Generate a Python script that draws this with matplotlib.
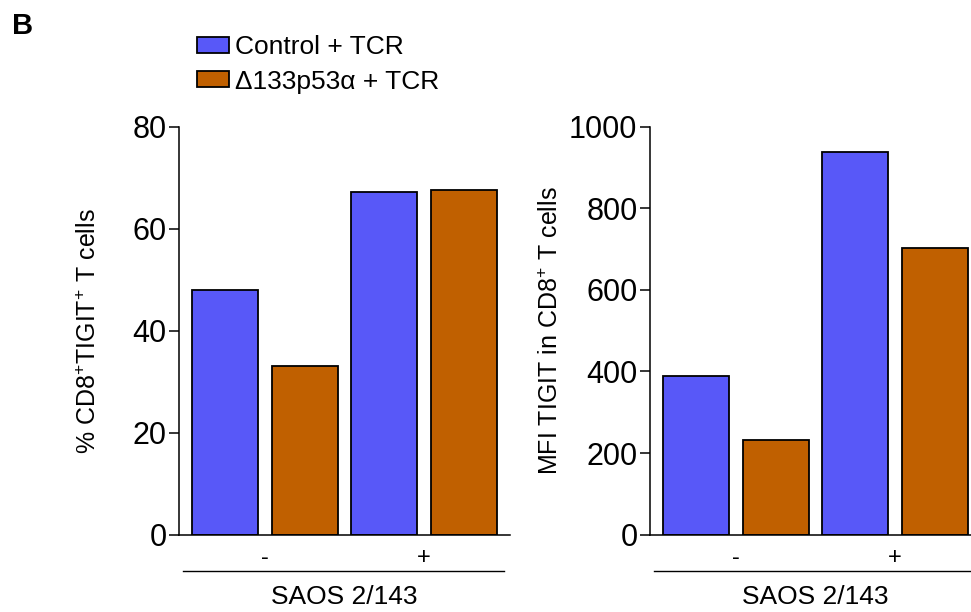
import matplotlib.pyplot as plt
import matplotlib.patches as mpatches

plt.rcParams['font.family'] = ['Liberation Sans', 'DejaVu Sans']
plt.rcParams['mathtext.fontset'] = 'custom'
plt.rcParams['mathtext.rm'] = 'Liberation Sans'
plt.rcParams['mathtext.default'] = 'regular'

# SAOS 2/143 co-culture: without (-) and with (+)
groups = ['-', '+']
series = ['Control + TCR', 'Δ133p53α + TCR']

pct_control = [48.0, 67.3]
pct_delta = [33.1, 67.6]

mfi_control = [390, 939]
mfi_delta = [232, 703]

blue = '#5858F8'
orange = '#C06000'

fig = plt.figure(figsize=(9.71, 6.12), dpi=100)

ax1 = fig.add_axes([0.1843, 0.1266, 0.3409, 0.666])
ax2 = fig.add_axes([0.6694, 0.1266, 0.3409, 0.666])

x = [0, 1]
off = 0.25
w = 0.415


def draw(ax, ctrl, delta, ymax, yticks, ylabel, label_x):
    ax.bar([i - off for i in x], ctrl, width=w, color=blue,
           edgecolor='black', linewidth=1.3, label=series[0])
    ax.bar([i + off for i in x], delta, width=w, color=orange,
           edgecolor='black', linewidth=1.3, label=series[1])
    ax.set_xlim(-0.54, 1.54)
    ax.set_ylim(0, ymax)
    ax.set_yticks(yticks)
    ax.set_xticks(x)
    ax.set_xticklabels(groups, fontsize=17)
    ax.tick_params(axis='x', length=0, pad=9)
    ax.tick_params(axis='y', length=7, width=1.1, labelsize=22, pad=2)
    for s in ['top', 'right']:
        ax.spines[s].set_visible(False)
    for s in ['left', 'bottom']:
        ax.spines[s].set_linewidth(1.1)
    ax.set_ylabel(ylabel, fontsize=18, va='center')
    ax.yaxis.set_label_coords(label_x, 0.5)

    # group bracket line and group name under the tick labels
    tr = ax.get_xaxis_transform()
    ax.plot([-0.515, 1.5], [-0.0896, -0.0896], color='black', lw=1.0,
            transform=tr, clip_on=False)
    ax.text(0.5, -0.153, 'SAOS 2/143', transform=tr, ha='center',
            va='center', fontsize=19)


draw(ax1, pct_control, pct_delta, 80, [0, 20, 40, 60, 80],
     '% CD8$^{+}$TIGIT$^{+}$ T cells', -0.272)
draw(ax2, mfi_control, mfi_delta, 1000, [0, 200, 400, 600, 800, 1000],
     'MFI TIGIT in CD8$^{+}$ T cells', -0.299)

handles = [mpatches.Patch(facecolor=blue, edgecolor='black', linewidth=1.3),
           mpatches.Patch(facecolor=orange, edgecolor='black', linewidth=1.3)]
fig.legend(handles, series, loc='upper left', bbox_to_anchor=(0.203, 0.942),
           frameon=False, fontsize=19, handlelength=1.2, handleheight=0.55,
           handletextpad=0.25, labelspacing=0.38, borderpad=0, borderaxespad=0)

fig.text(0.012, 0.958, 'B', fontsize=21, fontweight='bold', va='center')

fig.savefig('out.png', dpi=100)
